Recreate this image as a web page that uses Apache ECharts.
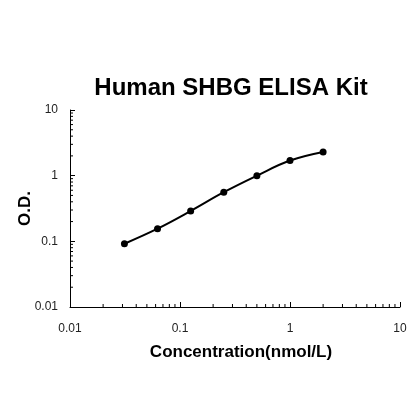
<!DOCTYPE html>
<html><head><meta charset="utf-8">
<script src="https://cdn.jsdelivr.net/npm/echarts@6/dist/echarts.min.js"></script>
<style>html,body{margin:0;padding:0;background:#fff}#c{width:420px;height:420px}</style>
</head><body><div id="c"></div>
<script>
const concentrations = [0.03125, 0.0625, 0.125, 0.25, 0.5, 1, 2];
const odValues = [0.092, 0.156, 0.29, 0.56, 1.0, 1.7, 2.3];
const xTickLabels = ['0.01', '0.1', '1', '10'];
const yTickLabels = ['0.01', '0.1', '1', '10'];
const decades = [0.01, 0.1, 1];
const minorMultipliers = [2, 3, 4, 5, 6, 7, 8, 9];

const minorVals = [];
decades.forEach(d => minorMultipliers.forEach(m => minorVals.push(+(d * m).toPrecision(3))));

const font = 'Arial, "Liberation Sans", sans-serif';
const chart = echarts.init(document.getElementById('c'));

function tickSeries(data, vertical) {
  return {
    type: 'custom', silent: true, clip: false, z: 5,
    data: data,
    renderItem: function (params, api) {
      const p = api.coord([api.value(0), api.value(1)]);
      return {
        type: 'line',
        shape: vertical ? {x1: p[0], y1: p[1], x2: p[0], y2: p[1] - 3}
                        : {x1: p[0], y1: p[1], x2: p[0] + 3, y2: p[1]},
        style: {stroke: '#000', lineWidth: 1}
      };
    }
  };
}

chart.setOption({
  animation: false,
  backgroundColor: '#fff',
  title: {
    text: 'Human SHBG ELISA Kit', left: 226, top: 71, textAlign: 'center',
    textStyle: {fontFamily: font, fontSize: 24, fontWeight: 'bold', color: '#000'}
  },
  grid: {left: 70, right: 20, top: 110, bottom: 113},
  xAxis: {
    type: 'log', logBase: 10, min: 0.01, max: 10,
    name: 'Concentration(nmol/L)', nameLocation: 'middle', nameGap: 37, nameMoveOverlap: false,
    nameTextStyle: {fontFamily: font, fontSize: 17, fontWeight: 'bold', color: '#000', padding: [0, 0, 0, 12]},
    axisLine: {show: true, lineStyle: {color: '#000', width: 1}},
    axisTick: {show: true, inside: true, length: 5, lineStyle: {color: '#000'}},
    axisLabel: {fontFamily: font, fontSize: 12, color: '#222', margin: 16,
      formatter: v => xTickLabels[Math.round(Math.log10(v)) + 2]},
    splitLine: {show: false}
  },
  yAxis: {
    type: 'log', logBase: 10, min: 0.01, max: 10,
    name: 'O.D.', nameLocation: 'middle', nameGap: 36, nameRotate: 90, nameMoveOverlap: false,
    nameTextStyle: {fontFamily: font, fontSize: 17, fontWeight: 'bold', color: '#000'},
    axisLine: {show: true, lineStyle: {color: '#000', width: 1}},
    axisTick: {show: true, inside: true, length: 5, lineStyle: {color: '#000'}},
    axisLabel: {fontFamily: font, fontSize: 12, color: '#222', margin: 12,
      formatter: v => yTickLabels[Math.round(Math.log10(v)) + 2]},
    splitLine: {show: false}
  },
  series: [
    {
      type: 'line', smooth: 0.4,
      data: concentrations.map((c, i) => [c, odValues[i]]),
      symbol: 'circle', symbolSize: 7,
      itemStyle: {color: '#000'},
      lineStyle: {color: '#000', width: 2}
    },
    tickSeries(minorVals.map(v => [v, 0.01]), true),
    tickSeries(minorVals.map(v => [0.01, v]), false)
  ]
});
</script></body></html>
